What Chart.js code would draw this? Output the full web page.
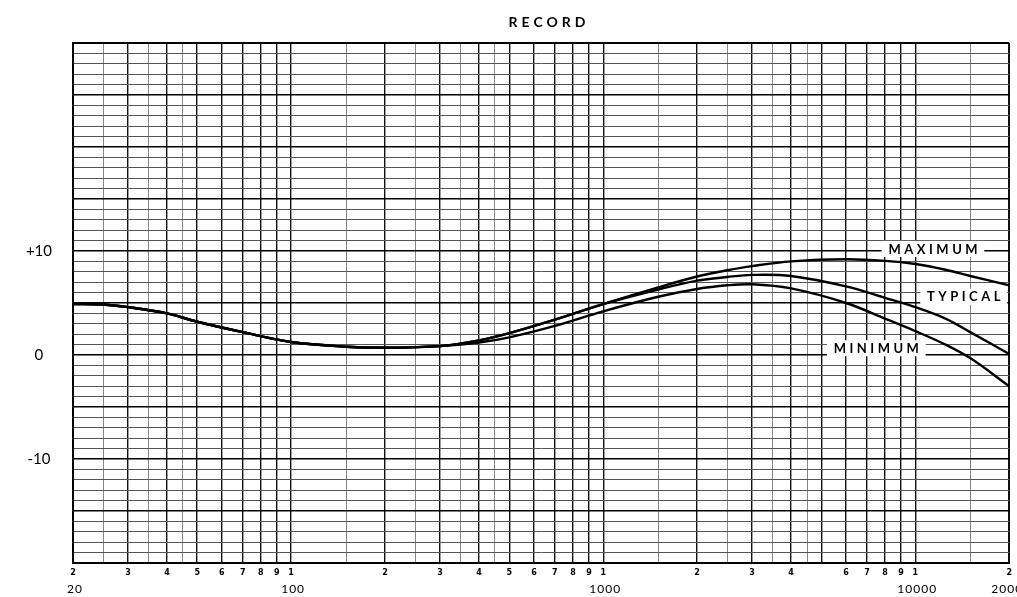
<!DOCTYPE html>
<html>
<head>
<meta charset="utf-8">
<script src="https://cdn.jsdelivr.net/npm/chart.js@4/dist/chart.umd.min.js"></script>
<style>
  html, body { margin: 0; padding: 0; background: #fff; }
  #wrap { width: 1017px; height: 597px; }
</style>
</head>
<body>
<div id="wrap"><canvas id="chart" width="1017" height="597"></canvas></div>
<script>
// Frequencies (Hz)
const freqs = [20, 25, 30, 40, 50, 70, 100, 150, 200, 300, 400, 500, 700, 1000, 1500, 2000, 2500, 3000, 4000, 6000, 8000, 10000, 12500, 15000, 20000];
// Response in dB
const maximumDb = [4.9, 4.85, 4.6, 4.0, 3.2, 2.2, 1.25, 0.8, 0.7, 0.85, 1.4, 2.1, 3.4, 4.9, 6.5, 7.55, 8.15, 8.55, 9.0, 9.2, 9.05, 8.75, 8.2, 7.6, 6.7];
const typicalDb = [4.9, 4.85, 4.6, 4.0, 3.2, 2.2, 1.25, 0.8, 0.7, 0.85, 1.4, 2.1, 3.4, 4.9, 6.3, 7.15, 7.5, 7.7, 7.6, 6.6, 5.5, 4.6, 3.5, 2.2, 0.1];
const minimumDb = [4.9, 4.85, 4.6, 4.0, 3.2, 2.2, 1.25, 0.8, 0.7, 0.85, 1.2, 1.7, 2.8, 4.2, 5.6, 6.35, 6.7, 6.8, 6.4, 5.0, 3.5, 2.3, 1.0, -0.3, -3.0];

// Grid lines on the log paper
const gridFreqs = [20, 25, 30, 35, 40, 45, 50, 60, 70, 80, 90, 100, 150, 200, 250, 300, 350, 400, 450, 500, 600, 700, 800, 900,
  1000, 1500, 2000, 2500, 3000, 3500, 4000, 4500, 5000, 6000, 7000, 8000, 9000, 10000, 15000, 20000];
// Small digits under the grid
const digitFreqs = [20, 30, 40, 50, 60, 70, 80, 90, 100, 200, 300, 400, 500, 600, 700, 800, 900, 1000,
  2000, 3000, 4000, 6000, 7000, 8000, 9000, 10000, 20000];
const digitLabels = ["2", "3", "4", "5", "6", "7", "8", "9", "1", "2", "3", "4", "5", "6", "7", "8", "9", "1",
  "2", "3", "4", "6", "7", "8", "9", "1", "2"];
// Decade labels
const decadeFreqs = [20, 100, 1000, 10000, 20000];
const decadeLabels = ["20", "100", "1000", "10000", "20000"];
// dB axis
const dbMin = -20, dbMax = 30;
const dbLabelValues = [10, 0, -10];
const dbLabels = ["+10", "0", "-10"];
// Curve captions: [text, freq, dB]
const captions = [["MAXIMUM", 11400, 10.2], ["TYPICAL", 14300, 5.6], ["MINIMUM", 7500, 0.65]];

const toPoints = arr => freqs.map((f, i) => ({ x: f, y: arr[i] }));

function isWhole(v) {
    const p = Math.pow(10, Math.floor(Math.log10(v) + 1e-9));
    return Math.abs(v / p - Math.round(v / p)) < 1e-6;
}

const paperPlugin = {
    id: "paper",
    beforeDatasetsDraw(chart) {
        const ctx = chart.ctx;
        const xs = chart.scales.x, ys = chart.scales.y;
        ctx.save();
        ctx.font = "bold 13px Lato, 'DejaVu Sans', sans-serif";
        ctx.letterSpacing = "3.5px";
        ctx.textBaseline = "middle";
        ctx.textAlign = "center";
        captions.forEach(([text, f, db]) => {
            const x = xs.getPixelForValue(f), y = ys.getPixelForValue(db);
            const w = ctx.measureText(text).width;
            ctx.fillStyle = "#fff";
            ctx.fillRect(x - w / 2 - 5, y - 8, w + 10, 16);
            ctx.fillStyle = "#000";
            ctx.fillText(text, x + 1.75, y + 0.5);
        });
        ctx.restore();
    },
    afterDraw(chart) {
        const ctx = chart.ctx;
        const xs = chart.scales.x;
        ctx.save();
        ctx.fillStyle = "#000";
        ctx.textAlign = "center";
        ctx.textBaseline = "middle";
        // title
        ctx.font = "bold 14px Lato, 'DejaVu Sans', sans-serif";
        ctx.letterSpacing = "4px";
        ctx.fillText("RECORD", 549, 22);
        // decade labels
        ctx.letterSpacing = "1px";
        ctx.font = "12px Lato, 'DejaVu Sans', sans-serif";
        decadeFreqs.forEach((f, i) => {
            ctx.fillText(decadeLabels[i], xs.getPixelForValue(f) + 2, 589);
        });
        ctx.restore();
    }
};

new Chart(document.getElementById("chart"), {
    type: "line",
    data: {
        datasets: [
            { label: "Maximum", data: toPoints(maximumDb) },
            { label: "Typical", data: toPoints(typicalDb) },
            { label: "Minimum", data: toPoints(minimumDb) },
        ].map(d => Object.assign(d, {
            borderColor: "#000",
            borderWidth: 2.4,
            pointRadius: 0,
            fill: false,
            tension: 0.35,
        })),
    },
    options: {
        responsive: false,
        animation: false,
        layout: { padding: { top: 43, right: 4, left: 0, bottom: 0 } },
        plugins: { legend: { display: false }, tooltip: { enabled: false }, title: { display: false } },
        scales: {
            x: {
                type: "logarithmic",
                min: 20,
                max: 20000,
                afterBuildTicks: s => { s.ticks = gridFreqs.map(v => ({ value: v })); },
                afterFit: s => { s.height = 34; },
                border: { display: true, color: "#000", width: 2 },
                grid: {
                    drawTicks: false,
                    color: c => {
                        const v = c.tick ? c.tick.value : 0;
                        return isWhole(v) ? "#111" : "#888";
                    },
                    lineWidth: c => {
                        const v = c.tick ? c.tick.value : 0;
                        if (v === 20 || v === 20000) return 2;
                        return isWhole(v) ? 1.4 : 1;
                    },
                },
                ticks: {
                    autoSkip: false,
                    maxRotation: 0,
                    padding: 5,
                    color: "#000",
                    font: { family: "'DejaVu Sans', sans-serif", size: 8, weight: "bold" },
                    callback: v => {
                        const i = digitFreqs.findIndex(f => Math.abs(f - v) < 1e-6);
                        return i >= 0 ? digitLabels[i] : "";
                    },
                },
            },
            y: {
                type: "linear",
                min: dbMin,
                max: dbMax,
                afterBuildTicks: s => {
                    const t = [];
                    for (let v = dbMin; v <= dbMax; v++) t.push({ value: v });
                    s.ticks = t;
                },
                afterFit: s => { s.width = 73; },
                border: { display: true, color: "#000", width: 2 },
                grid: {
                    drawTicks: false,
                    color: c => (c.tick && c.tick.value % 5 === 0) ? "#000" : "#555",
                    lineWidth: c => {
                        const v = c.tick ? c.tick.value : 0;
                        if (v === dbMax || v === dbMin) return 2;
                        return v % 5 === 0 ? 1.6 : 1;
                    },
                },
                ticks: {
                    autoSkip: false,
                    crossAlign: "center",
                    padding: 21,
                    color: "#000",
                    font: { family: "Lato, 'DejaVu Sans', sans-serif", size: 15 },
                    callback: v => {
                        const i = dbLabelValues.indexOf(v);
                        return i >= 0 ? dbLabels[i] : "";
                    },
                },
            },
        },
    },
    plugins: [paperPlugin],
});
</script>
</body>
</html>
